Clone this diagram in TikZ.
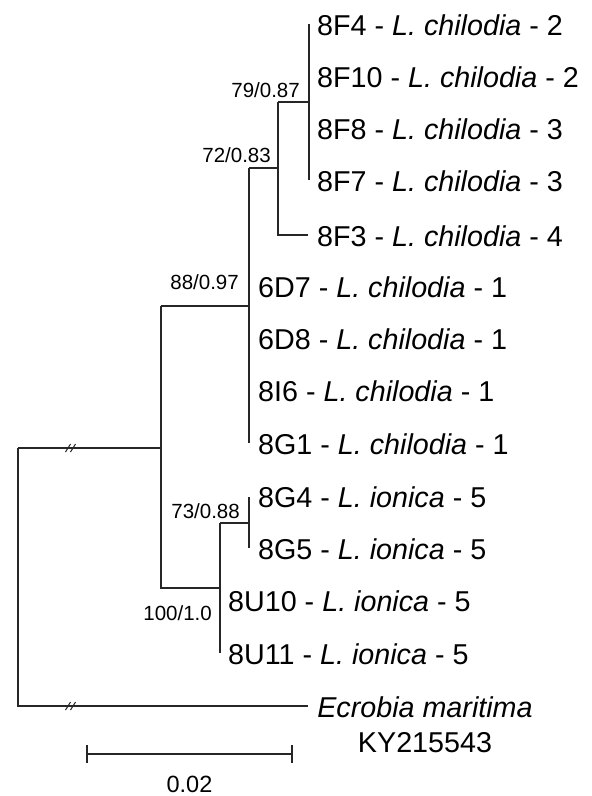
\documentclass[tikz,border=0pt]{standalone}
\usepackage{fontspec}
\setmainfont{Liberation Sans}
\begin{document}
\begin{tikzpicture}[x=1pt,y=-1pt,
  branch/.style={line width=1.3pt,draw=black!85},
  brk/.style={line width=1.0pt,draw=black!85},
  tip/.style={anchor=base west,inner sep=0pt,font=\fontsize{28.7}{30}\selectfont},
  supp/.style={anchor=base east,inner sep=0pt,font=\fontsize{20.5}{22}\selectfont},
  outg/.style={anchor=base,inner sep=0pt,font=\fontsize{28.7}{30}\selectfont}]
\useasboundingbox (0,0) rectangle (592,796);
% internal nodes
\coordinate (n79) at (309,102);
\coordinate (n72) at (278,168);
\coordinate (n88) at (249,306);
\coordinate (nin) at (161,448);
\coordinate (n73) at (249,523);
\coordinate (n100) at (220,588);
\coordinate (root) at (18,448);
% tip ends
\coordinate (t1) at (309,24);
\coordinate (t4) at (309,180);
\coordinate (t5) at (308,235);
\coordinate (t6) at (249,168);
\coordinate (t9) at (249,443);
\coordinate (t10) at (249,497);
\coordinate (t11) at (249,548);
\coordinate (t13) at (220,653);
\coordinate (tout) at (308,706);
% tip labels
\node[tip] (l1) at (317,35) {8F4 - \textit{L. chilodia} - 2};
\node[tip] (l2) at (317,87) {8F10 - \textit{L. chilodia} - 2};
\node[tip] (l3) at (317,139) {8F8 - \textit{L. chilodia} - 3};
\node[tip] (l4) at (317,191) {8F7 - \textit{L. chilodia} - 3};
\node[tip] (l5) at (317,246) {8F3 - \textit{L. chilodia} - 4};
\node[tip] (l6) at (258,297) {6D7 - \textit{L. chilodia} - 1};
\node[tip] (l7) at (258,349) {6D8 - \textit{L. chilodia} - 1};
\node[tip] (l8) at (258,401) {8I6 - \textit{L. chilodia} - 1};
\node[tip] (l9) at (258,454) {8G1 - \textit{L. chilodia} - 1};
\node[tip] (l10) at (258,507) {8G4 - \textit{L. ionica} - 5};
\node[tip] (l11) at (258,559) {8G5 - \textit{L. ionica} - 5};
\node[tip] (l12) at (228,611) {8U10 - \textit{L. ionica} - 5};
\node[tip] (l13) at (228,664) {8U11 - \textit{L. ionica} - 5};
\node[outg] (lout) at (425,717) {\textit{Ecrobia maritima}};
\node[outg] (lacc) at (425,752) {KY215543};
% support values
\node[supp] (s79) at (300,97) {79/0.87};
\node[supp] (s72) at (271,162) {72/0.83};
\node[supp] (s88) at (239,289) {88/0.97};
\node[supp] (s73) at (240,518) {73/0.88};
\node[supp] (s100) at (212,620) {100/1.0};
% branches
\draw[branch] (t1) -- (t4);
\draw[branch] (n72 |- n79) -- (n79);
\draw[branch] (n72 |- n79) -- (n72 |- t5) -- (t5);
\draw[branch] (n88 |- n72) -- (n72);
\draw[branch] (t6) -- (t9);
\draw[branch] (nin |- n88) -- (n88);
\draw[branch] (nin |- n88) -- (nin |- n100) -- (n100);
\draw[branch] (t10) -- (t11);
\draw[branch] (n100 |- n73) -- (n73);
\draw[branch] (n100 |- n73) -- (t13);
\draw[branch] (root) -- (nin);
\draw[branch] (root) -- (root |- tout) -- (tout);
% break marks
\foreach \yy in {448,706}{
  \draw[brk] (65.5,\yy+4) -- (70.5,\yy-4);
  \draw[brk] (70.5,\yy+4) -- (75.5,\yy-4);
}
% scale bar
\coordinate (sb1) at (87,754);
\coordinate (sb2) at (292,754);
\draw[branch] (sb1) -- (sb2);
\draw[branch] (87,745) -- (87,763);
\draw[branch] (292,745) -- (292,763);
\node[anchor=base,inner sep=0pt,font=\fontsize{23.5}{25}\selectfont] (sbl) at (189.5,792) {0.02};
\end{tikzpicture}
\end{document}
